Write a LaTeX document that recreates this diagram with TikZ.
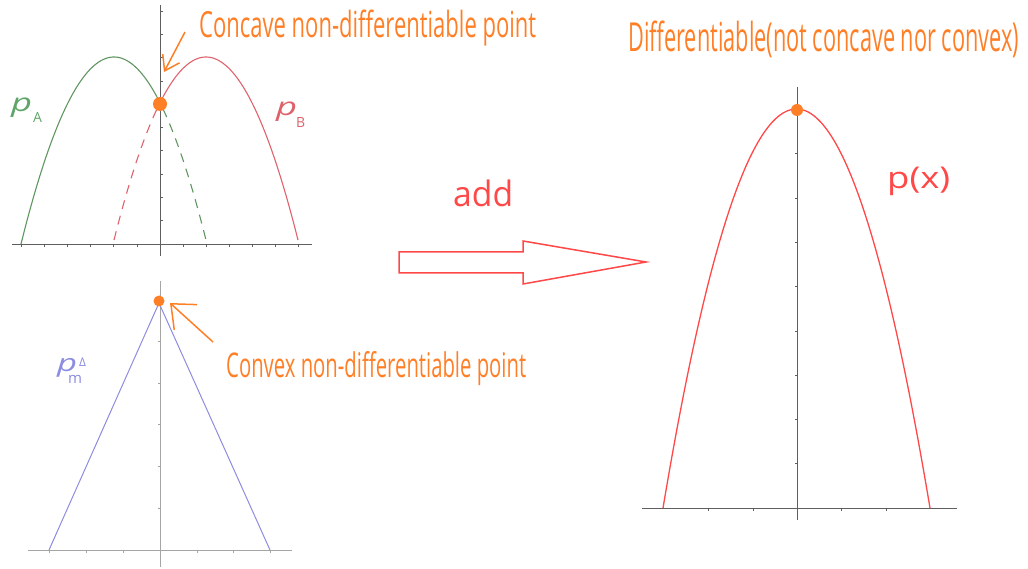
\documentclass[tikz,border=0pt]{standalone}
\usepackage{fontspec}
\setmainfont{Open Sans}
\usetikzlibrary{arrows.meta}
\definecolor{orng}{RGB}{255,127,39}
\definecolor{grnC}{RGB}{95,150,95}
\definecolor{grnL}{RGB}{95,165,105}
\definecolor{redB}{RGB}{222,98,108}
\definecolor{purp}{RGB}{140,140,225}
\definecolor{redP}{RGB}{255,72,72}
\definecolor{axD}{RGB}{95,95,95}
\definecolor{axL}{RGB}{165,165,165}
\tikzset{
  axisdark/.style={draw=axD,line width=0.8pt},
  axislight/.style={draw=axL,line width=0.8pt},
  tickdark/.style={draw=axD,line width=0.6pt},
  ticklight/.style={draw=axL,line width=0.6pt},
  curve/.style={line width=1.1pt},
  dashcurve/.style={line width=1.1pt,dash pattern=on 9pt off 7pt},
  orangedot/.style={fill=orng,draw=none},
  callout/.style={draw=orng,line width=1.5pt},
  txt/.style={inner sep=0pt,anchor=base west},
  plabel/.style={txt,font=\itshape\fontsize{20}{22}\selectfont},
  sublabel/.style={txt,font=\fontsize{14}{14}\selectfont},
}
\begin{document}
\begin{tikzpicture}[x=1pt,y=-1pt]
\useasboundingbox (0,0) rectangle (1028,569);

%% ---------- top plot ----------
\draw[axisdark] (12,244) -- (312,244);
\draw[axisdark] (160,5) -- (160,256);
\foreach \k in {1,...,10} \draw[tickdark] (160,{244-23.3*\k}) -- ++(3,0);
\foreach \xx in {21,44,67,90,113,137,183,206,229,252,275,298} \draw[tickdark] (\xx,244) -- ++(0,3);

\draw[curve,grnC] plot[domain=21:160,samples=80] (\x,{57+187*((\x-114)/93)^2});
\draw[dashcurve,grnC] plot[domain=163:206,samples=30] (\x,{57+187*((\x-114)/93)^2});
\draw[curve,redB] plot[domain=160:298,samples=80] (\x,{57+187*((\x-206)/93)^2});
\draw[dashcurve,redB] plot[domain=114:157,samples=30] (\x,{57+187*((\x-206)/93)^2});

\fill[orangedot] (160,104) circle (7);

\node[plabel,text=grnL] (pA) at (11,112) {\resizebox{21pt}{1.25\height}{p}};
\node[sublabel,text=grnL] (pAs) at (33,123) {A};
\node[plabel,text=redB] (pB) at (276,116) {\resizebox{21pt}{1.25\height}{p}};
\node[sublabel,text=redB] (pBs) at (296,128) {B};

\node[txt,font=\fontsize{36}{40}\selectfont,text=orng] (concave) at (199,38) {\resizebox{337pt}{\height}{Concave non-differentiable point}};
\coordinate (c1s) at (185,32);
\coordinate (c1e) at (164,72);
\draw[callout,-{Straight Barb[length=14pt,width=19pt]}] (c1s) -- (c1e);

%% ---------- bottom plot ----------
\draw[axislight] (28,550) -- (292,550);
\draw[axislight] (160,281) -- (160,567);
\foreach \k in {1,...,6} \draw[ticklight] (160,{550-41.8*\k}) -- ++(-2.5,0);
\foreach \xx in {49,86,123,197,233,270} \draw[ticklight] (\xx,550) -- ++(0,2.5);

\draw[curve,purp,line width=1pt] (49,550) -- (159,303) -- (270,550);
\fill[orangedot] (159,301) circle (5.5);

\node[txt,text=purp] (pm) at (57,371) {{\itshape\fontsize{20}{22}\selectfont\resizebox{20pt}{1.2\height}{p}}\hspace{-9pt}\rlap{\raisebox{-12pt}{\fontsize{15}{15}\selectfont m}}\hspace{11pt}\raisebox{5pt}{\fontsize{12}{12}\selectfont Δ}};

\node[txt,font=\fontsize{34}{38}\selectfont,text=orng] (convex) at (226,377) {\resizebox{300pt}{\height}{Convex non-differentiable point}};
\coordinate (c2s) at (213,342);
\coordinate (c2e) at (170,303);
\draw[callout,-{Straight Barb[length=20pt,width=34pt]}] (c2s) -- (c2e);

%% ---------- arrow ----------
\node[txt,font=\fontsize{35}{38}\selectfont,text=redP] (add) at (453,207) {\resizebox{60pt}{\height}{add}};
\draw[draw=redP,line width=1.5pt,line join=miter] (399,252) -- (523,252) -- (523,241) -- (646,262) -- (523,284) -- (523,273) -- (399,273) -- cycle;

%% ---------- right plot ----------
\draw[axisdark] (642,508) -- (957,508);
\draw[axisdark] (797,87) -- (797,520);
\foreach \k in {1,...,8} \draw[tickdark] (797,{508-44.3*\k}) -- ++(-2.5,0);
\foreach \xx in {708,753,841,886} \draw[tickdark] (\xx,508) -- ++(0,2.5);

\draw[curve,redP,line width=1.3pt] plot[domain=663:930,samples=120] (\x,{109+399*((\x-796.5)/133.5)^2});
\fill[orangedot] (797,110) circle (6);

\node[txt,font=\fontsize{40}{44}\selectfont,text=orng] (diff) at (628,52) {\resizebox{391pt}{\height}{Differentiable(not concave nor convex)}};
\node[txt,font=\fontsize{30}{34}\selectfont,text=redP] (px) at (887,189) {\resizebox{63pt}{\height}{p(x)}};

\end{tikzpicture}
\end{document}
